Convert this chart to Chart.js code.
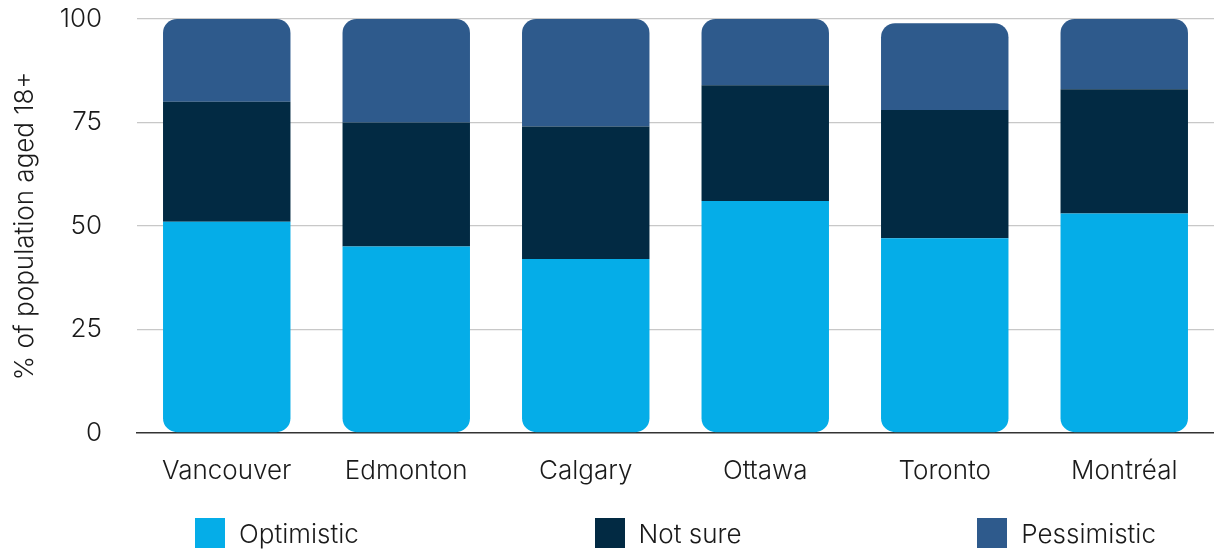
<!DOCTYPE html>
<html>
<head>
<meta charset="utf-8">
<script src="https://cdn.jsdelivr.net/npm/chart.js@4.4.1/dist/chart.umd.min.js"></script>
<style>
  html, body { margin: 0; padding: 0; background: #fff; }
  #wrap { width: 1214px; height: 552px; position: relative; }
  #legend {
    position: absolute; top: 518px; height: 30px;
    display: flex; justify-content: space-between;
    font-family: Inter, "Open Sans", sans-serif; font-size: 26px; font-weight: 300; color: #1a1a1a;
  }
  #legend .item { display: flex; align-items: center; white-space: nowrap; }
  #legend .box { width: 30px; height: 30px; margin-right: 14px; }
</style>
</head>
<body>
<div id="wrap"><canvas id="chart"></canvas><div id="legend"></div></div>
<script>
// cities + survey shares (% of population aged 18+)
const cities = ['Vancouver', 'Edmonton', 'Calgary', 'Ottawa', 'Toronto', 'Montréal'];
const optimistic = [51, 45, 42, 56, 47, 53];
const notSure = [29, 30, 32, 28, 31, 30];
const pessimistic = [20, 25, 26, 16, 21, 17];
const yTicks = [0, 25, 50, 75, 100];

const FONT = 'Inter, "Open Sans", sans-serif';
const FONT_SIZE = 26;
const RAD = 14;
const PLOT_LEFT = 137;

const chart = new Chart(document.getElementById('chart'), {
  type: 'bar',
  data: {
    labels: cities,
    datasets: [
      {
        label: 'Optimistic',
        data: optimistic,
        backgroundColor: '#05ADE8',
        borderRadius: { topLeft: 0, topRight: 0, bottomLeft: RAD, bottomRight: RAD },
        borderSkipped: false
      },
      {
        label: 'Not sure',
        data: notSure,
        backgroundColor: '#022A43',
        borderRadius: 0,
        borderSkipped: false
      },
      {
        label: 'Pessimistic',
        data: pessimistic,
        backgroundColor: '#2E5A8C',
        borderRadius: { topLeft: RAD, topRight: RAD, bottomLeft: 0, bottomRight: 0 },
        borderSkipped: false
      }
    ]
  },
  options: {
    responsive: true,
    maintainAspectRatio: false,
    animation: false,
    barPercentage: 0.71,
    categoryPercentage: 1,
    layout: { padding: { top: 19, right: 0, left: 10, bottom: 42 } },
    plugins: {
      tooltip: { enabled: false },
      legend: { display: false }
    },
    scales: {
      x: {
        stacked: true,
        grid: { display: false, drawTicks: false },
        border: { display: true, color: '#333', width: 1.5 },
        ticks: {
          color: '#1a1a1a',
          padding: 23,
          font: { family: FONT, size: FONT_SIZE, weight: 300 }
        }
      },
      y: {
        stacked: true,
        min: 0,
        max: 100,
        afterBuildTicks(axis) {
          axis.ticks = yTicks.map(v => ({ value: v }));
        },
        // fixed axis width so the plot starts where the reference does
        afterFit(scale) {
          scale.width = PLOT_LEFT - 10;
        },
        border: { display: false },
        grid: {
          // invisible tick marks give the label gap without the extra top padding
          drawTicks: true,
          tickLength: 35,
          tickColor: 'rgba(0,0,0,0)',
          color: ctx => ctx.tick && ctx.tick.value === 0 ? 'rgba(0,0,0,0)' : '#c8c8c8',
          lineWidth: 1.2
        },
        ticks: {
          color: '#1a1a1a',
          padding: 0,
          font: { family: FONT, size: FONT_SIZE, weight: 300 }
        },
        title: {
          display: true,
          text: '% of population aged 18+',
          color: '#1a1a1a',
          padding: { top: 0, bottom: 4 },
          font: { family: FONT, size: FONT_SIZE, weight: 300 }
        }
      }
    }
  }
});

// html legend built from the datasets, spread under the plot area
const ca = chart.chartArea;
const legend = document.getElementById('legend');
legend.style.left = (ca.left + 58) + 'px';
legend.style.width = (ca.right - ca.left - 116) + 'px';
chart.data.datasets.forEach(ds => {
  const item = document.createElement('div');
  item.className = 'item';
  item.innerHTML = `<span class="box" style="background:${ds.backgroundColor}"></span><span>${ds.label}</span>`;
  legend.appendChild(item);
});
</script>
</body>
</html>
